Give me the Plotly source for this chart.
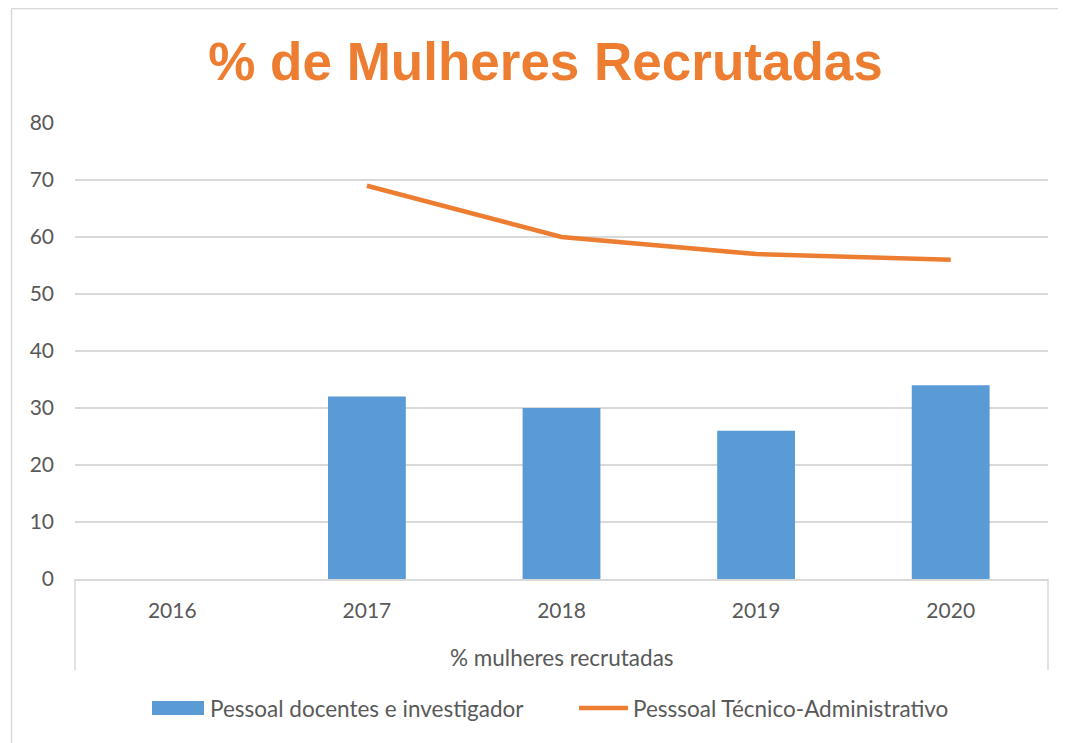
import plotly.graph_objects as go

years = ["2016", "2017", "2018", "2019", "2020"]
docentes = [None, 32, 30, 26, 34]
tecnicos = [None, 69, 60, 57, 56]
group_label = "% mulheres recrutadas"
title_text = "% de Mulheres Recrutadas"
name_docentes = "Pessoal docentes e investigador"
name_tecnicos = "Pesssoal Técnico-Administrativo"

# page body has an 8px margin: work in screen coordinates, shift by OFF
OFF = 8
W, H = 1066 - 2 * OFF, 743 - OFF
L, R, T, B = 75, 1048, 123, 579  # screen coords of plot area
pw, ph = R - L, B - T

def px(x):
    return (x - L) / pw

def py(y):
    return (B - y) / ph

FONT = "Lato"
GRAY = "#595959"
LINEC = "#d9d9d9"
BLUE = "#5B9BD5"
ORANGE = "#ED7D31"
TXT = 22.5

fig = go.Figure()
fig.add_trace(go.Bar(x=years, y=docentes, name=name_docentes,
                     marker=dict(color=BLUE, line=dict(width=0))))
fig.add_trace(go.Scatter(x=years, y=tecnicos, name=name_tecnicos, mode="lines",
                         line=dict(color=ORANGE, width=4.5), connectgaps=False))

fig.update_layout(
    width=W, height=H,
    margin=dict(l=L - OFF, r=(W + OFF) - R, t=T - OFF, b=(H + OFF) - B, pad=0),
    paper_bgcolor="white", plot_bgcolor="white",
    bargap=0.6,
    font=dict(family=FONT, size=21, color=GRAY),
    title=dict(text=title_text, x=(545.5 - OFF) / W, xref="container", xanchor="center",
               y=1 - (61 - OFF) / H, yref="container", yanchor="middle",
               font=dict(family="Liberation Sans", size=53, color=ORANGE, weight="bold")),
    showlegend=False,
    xaxis=dict(type="category", showgrid=False, showline=True, linecolor=LINEC, linewidth=1.5,
               ticks="", ticklabelstandoff=12, tickfont=dict(family=FONT, size=21, color=GRAY),
               fixedrange=True),
    yaxis=dict(range=[0, 80], dtick=10, showgrid=True, gridcolor=LINEC, gridwidth=1.5,
               zeroline=False, showline=False, ticks="", ticklabelstandoff=20,
               tickfont=dict(family=FONT, size=21, color=GRAY), fixedrange=True),
    annotations=[
        dict(text=group_label, x=0.5, y=py(657), xref="paper", yref="paper",
             xanchor="center", yanchor="middle", showarrow=False,
             font=dict(family=FONT, size=TXT, color=GRAY)),
        dict(text=name_docentes, x=px(208), y=py(708), xref="paper", yref="paper",
             xanchor="left", yanchor="middle", showarrow=False,
             font=dict(family=FONT, size=TXT, color=GRAY)),
        dict(text=name_tecnicos, x=px(631), y=py(708), xref="paper", yref="paper",
             xanchor="left", yanchor="middle", showarrow=False,
             font=dict(family=FONT, size=TXT, color=GRAY)),
    ],
    shapes=[
        dict(type="line", xref="paper", yref="paper", x0=0, x1=0, y0=0, y1=py(670),
             line=dict(color=LINEC, width=1.5)),
        dict(type="line", xref="paper", yref="paper", x0=1, x1=1, y0=0, y1=py(670),
             line=dict(color=LINEC, width=1.5)),
        # outer chart border (top and left edges visible)
        dict(type="line", xref="paper", yref="paper", x0=px(11.5), x1=px(1100), y0=py(8.5), y1=py(8.5),
             line=dict(color=LINEC, width=1.5), layer="below"),
        dict(type="line", xref="paper", yref="paper", x0=px(11.5), x1=px(11.5), y0=py(8.5), y1=py(800),
             line=dict(color=LINEC, width=1.5), layer="below"),
        # legend swatches
        dict(type="rect", xref="paper", yref="paper", x0=px(152), x1=px(204), y0=py(715), y1=py(701),
             line=dict(width=0), fillcolor=BLUE),
        dict(type="line", xref="paper", yref="paper", x0=px(579), x1=px(628), y0=py(708), y1=py(708),
             line=dict(color=ORANGE, width=4.5)),
    ],
)

fig.write_html("out.html")
